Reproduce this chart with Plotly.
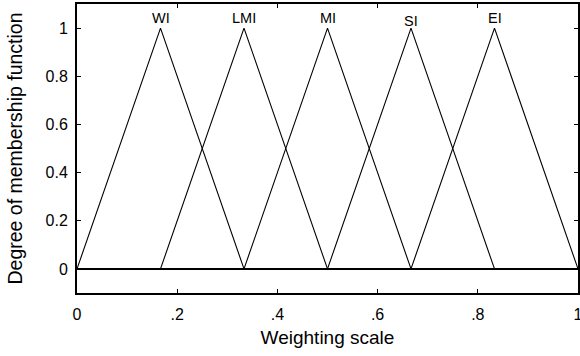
import plotly.graph_objects as go

labels = ["WI", "LMI", "MI", "SI", "EI"]
tri_x = [
    [0.0, 1/6, 1/3],
    [1/6, 1/3, 1/2],
    [1/3, 1/2, 2/3],
    [1/2, 2/3, 5/6],
    [2/3, 5/6, 1.0],
]
tri_y = [0, 1, 0]
label_y = [1.042, 1.042, 1.042, 1.028, 1.042]
base_x = [0, 1]
base_y = [0, 0]

x_ticks = [0, 0.2, 0.4, 0.6, 0.8, 1]
x_ticktext = ["0", ".2", ".4", ".6", ".8", "1"]
y_ticks = [0, 0.2, 0.4, 0.6, 0.8, 1]
y_ticktext = ["0", "0.2", "0.4", "0.6", "0.8", "1"]

fig = go.Figure()
fig.add_trace(go.Scatter(x=base_x, y=base_y, mode="lines",
                         line=dict(color="black", width=2), showlegend=False,
                         hoverinfo="skip"))
for xs in tri_x:
    fig.add_trace(go.Scatter(x=xs, y=tri_y, mode="lines",
                             line=dict(color="black", width=1.1), showlegend=False,
                             hoverinfo="skip"))
for lab, xs, ly in zip(labels, tri_x, label_y):
    fig.add_annotation(x=xs[1], y=ly, text=lab, showarrow=False,
                       font=dict(size=14.5, color="black"))

fig.update_layout(
    template="none",
    width=580, height=356,
    margin=dict(l=77, r=2, t=4, b=63),
    paper_bgcolor="white", plot_bgcolor="white",
    font=dict(family="Liberation Sans, Arial, sans-serif", color="black", size=16),
)
fig.update_xaxes(range=[0, 1], tickvals=x_ticks, ticktext=x_ticktext,
                 automargin=False,
                 ticks="inside", ticklen=4, tickcolor="black", tickwidth=1,
                 showline=True, linecolor="black", linewidth=2, mirror="ticks",
                 showgrid=False, zeroline=False, ticklabeloverflow="allow",
                 ticklabelstandoff=6,
                 title=dict(text="Weighting scale", font=dict(size=19), standoff=8),
                 tickfont=dict(size=16))
fig.update_yaxes(range=[-0.1, 1.1], tickvals=y_ticks, ticktext=y_ticktext,
                 automargin=False,
                 ticks="inside", ticklen=4, tickcolor="black", tickwidth=1,
                 showline=True, linecolor="black", linewidth=2, mirror="ticks",
                 showgrid=False, zeroline=False,
                 ticklabelstandoff=4,
                 title=dict(text="Degree of membership function", font=dict(size=19.5), standoff=18),
                 tickfont=dict(size=16))

fig.write_html("out.html", config={"displayModeBar": False},
               post_script="document.body.style.margin='0';document.body.style.overflow='hidden';")
